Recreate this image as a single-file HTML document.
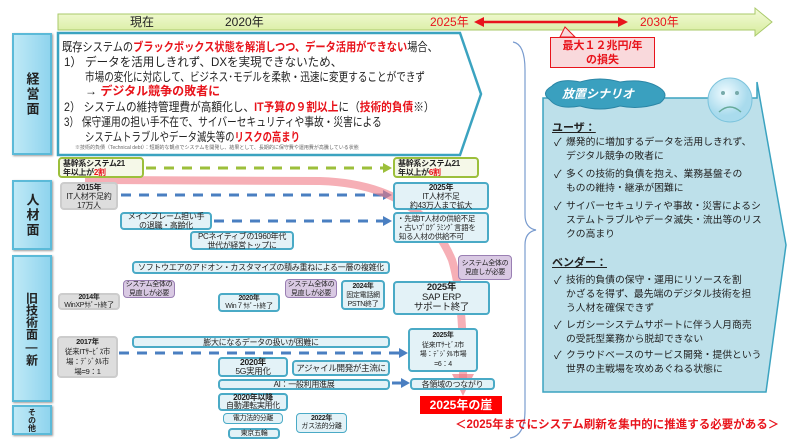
<!DOCTYPE html>
<html><head><meta charset="utf-8"><style>
*{margin:0;padding:0;box-sizing:border-box}
body{width:800px;height:448px;background:#fff;position:relative;overflow:hidden;font-family:"Liberation Sans","Noto Sans CJK JP",sans-serif;color:#222}
.a{position:absolute}
.lab{position:absolute;left:12px;width:40px;background:linear-gradient(90deg,#bfe9f6,#8fd4ee);border:2px solid #5bbad8;font-weight:bold;font-size:13px;display:flex;align-items:center;justify-content:center;writing-mode:vertical-rl;text-orientation:upright;letter-spacing:2px;box-shadow:1px 1px 2px #999}
.bx{position:absolute;border:2px solid #4aaac6;border-radius:4px;background:#e3f2f7;font-size:8px;text-align:center;line-height:9px;display:flex;justify-content:center;align-items:center;white-space:nowrap;letter-spacing:-0.3px}
.g{background:#ddd;border-color:#ccc}
.gr{background:#f5f8e8;border-color:#9cbf3b;font-weight:bold;text-align:left;justify-content:flex-start;padding-left:3px}
.pu{position:absolute;background:#d9c9e3;border:1.5px solid #9a7fb3;border-radius:4px;font-size:7px;line-height:9px;text-align:center;display:flex;justify-content:center;align-items:center;white-space:nowrap;letter-spacing:-0.3px}
b{font-weight:bold}
.r{color:#e8141c;font-weight:bold}
.t{position:absolute;font-size:12px;white-space:nowrap;line-height:14px;transform-origin:0 0}
.li{position:absolute;left:554px;font-size:9.8px;line-height:14px;white-space:nowrap}
.li:before{content:"✓";position:absolute;left:0;font-size:11px}
.li span{display:block;padding-left:12px}
</style></head><body>
<svg class="a" style="left:0;top:0" width="800" height="448">
<defs><linearGradient id="tg" x1="0" y1="0" x2="0" y2="1"><stop offset="0" stop-color="#f4fbd9"/><stop offset="1" stop-color="#d6ec9c"/></linearGradient>
<radialGradient id="fg" cx="0.4" cy="0.35"><stop offset="0" stop-color="#f0fbff"/><stop offset="1" stop-color="#a9dbed"/></radialGradient></defs>
<polygon points="58,14 755,14 755,8 772,22 755,36 755,30 58,30" fill="url(#tg)" stroke="#a9c96a" stroke-width="1"/>
<line x1="480" y1="22" x2="622" y2="22" stroke="#e8141c" stroke-width="2.5"/>
<polygon points="474,22 484,17 484,27" fill="#e8141c"/><polygon points="628,22 618,17 618,27" fill="#e8141c"/>
<polygon points="58,33 460,33 481,94 460,155 58,155" fill="#fff" stroke="#3ba3c0" stroke-width="2.5"/>
<line x1="146" y1="168" x2="384" y2="168" stroke="#9cbf3b" stroke-width="3" stroke-dasharray="10,8"/><polygon points="392,168 383,163 383,173" fill="#9cbf3b"/>
<line x1="121" y1="195" x2="384" y2="195" stroke="#4a7fc1" stroke-width="3" stroke-dasharray="10,8"/><polygon points="392,195 383,190 383,200" fill="#4a7fc1"/>
<line x1="214" y1="221" x2="384" y2="221" stroke="#4a7fc1" stroke-width="3" stroke-dasharray="10,8"/><polygon points="392,221 383,216 383,226" fill="#4a7fc1"/>
<line x1="119" y1="353" x2="400" y2="353" stroke="#4a7fc1" stroke-width="3" stroke-dasharray="10,8"/><polygon points="408,353 399,348 399,358" fill="#4a7fc1"/>
<line x1="392" y1="383" x2="402" y2="383" stroke="#4a7fc1" stroke-width="3"/><polygon points="410,383 401,378 401,388" fill="#4a7fc1"/>
<path d="M85,180 L320,181 Q420,184 452,260 Q464,300 463,380" fill="none" stroke="#f07a85" stroke-opacity="0.6" stroke-width="8"/>
<polygon points="463,396 452,374 474,374" fill="#f07a85" fill-opacity="0.7"/>
<path d="M513,42 Q525,44 525,70 L525,215 Q525,228 536,230 Q525,232 525,245 L525,410 Q525,436 510,438" fill="none" stroke="#7a9ccf" stroke-width="1.2"/>
<polygon points="543,98 757,98 757,82 786,245 766,392 757,392 543,392" fill="#bde0ea" stroke="#3ba3c0" stroke-width="1.5"/>
<path d="M552,86 Q560,78 580,82 Q600,76 620,82 Q645,78 660,88 Q670,95 660,103 Q640,110 620,106 Q600,112 580,106 Q558,110 550,100 Q540,93 552,86Z" fill="#3aa0bf" stroke="#2b86a6"/>
<circle cx="730" cy="100" r="22" fill="url(#fg)" stroke="#7cc3dc"/>
<circle cx="723" cy="93" r="2" fill="#7aa"/><circle cx="737" cy="93" r="2" fill="#7aa"/>
<path d="M719,112 Q730,102 741,112" fill="none" stroke="#6a9" stroke-width="1.5"/>
<polygon points="560,37 565,27 575,37" fill="#f9d9dc" stroke="#e8141c" stroke-width="1"/>
</svg>
<div class="t" style="left:130px;top:15px">現在</div>
<div class="t" style="left:225px;top:15px">2020年</div>
<div class="t" style="left:430px;top:15px;color:#e8141c">2025年</div>
<div class="t" style="left:640px;top:15px;color:#e8141c">2030年</div>
<div class="a" style="left:550px;top:37px;width:105px;height:31px;background:#f9d9dc;border:1px solid #e8141c;color:#e8141c;font-weight:bold;font-size:11px;text-align:center;line-height:14px;padding-top:1px">最大１２兆円/年<br>の損失</div>

<div class="lab" style="top:33px;height:122px">経営面</div>
<div class="lab" style="top:180px;height:70px">人材面</div>
<div class="lab" style="top:255px;height:147px;font-size:12px;letter-spacing:0">旧技術面―新</div>
<div class="lab" style="top:405px;height:30px;font-size:8px;letter-spacing:0">その他</div>

<div class="t" style="left:62px;top:40px;transform:scaleX(0.85)">既存システムの<span class="r">ブラックボックス状態を解消しつつ、データ活用ができない</span>場合、</div>
<div class="t" style="left:64px;top:55px;transform:scaleX(0.96)">1） データを活用しきれず、DXを実現できないため、</div>
<div class="t" style="left:85px;top:70px;transform:scaleX(0.8)">市場の変化に対応して、ビジネス･モデルを柔軟・迅速に変更することができず</div>
<div class="t" style="left:85px;top:84px">→ <span class="r">デジタル競争の敗者に</span></div>
<div class="t" style="left:64px;top:100px;transform:scaleX(0.89)">2） システムの維持管理費が高額化し、<span class="r">IT予算の９割以上</span>に（<span class="r">技術的負債</span>※）</div>
<div class="t" style="left:64px;top:115px;transform:scaleX(0.81)">3） 保守運用の担い手不在で、サイバーセキュリティや事故・災害による</div>
<div class="t" style="left:85px;top:130px;transform:scaleX(0.78)">システムトラブルやデータ滅失等の<span class="r">リスクの高まり</span></div>
<div class="t" style="left:75px;top:145px;font-size:5px;line-height:6px;color:#666">※技術的負債（Technical debt）：短期的な観点でシステムを開発し、結果として、長期的に保守費や運用費が高騰している状態</div>

<div class="bx gr" style="left:58px;top:157px;width:86px;height:21px"><div>基幹系システム21<br>年以上が<span class="r">2割</span></div></div>
<div class="bx gr" style="left:393px;top:157px;width:86px;height:21px"><div>基幹系システム21<br>年以上が<span class="r">6割</span></div></div>
<div class="bx g" style="left:60px;top:182px;width:58px;height:28px"><div><b>2015年</b><br>IT人材不足約<br>17万人</div></div>
<div class="bx" style="left:393px;top:182px;width:96px;height:28px"><div><b>2025年</b><br>IT人材不足<br>約43万人まで拡大</div></div>
<div class="bx" style="left:120px;top:212px;width:92px;height:18px"><div>メインフレーム担い手<br>の退職・高齢化</div></div>
<div class="bx" style="left:393px;top:212px;width:96px;height:31px;text-align:left;justify-content:flex-start;padding-left:2px;font-size:7.5px"><div>・先端IT人材の供給不足<br>・古いﾌﾟﾛｸﾞﾗﾐﾝｸﾞ言語を<br>&nbsp;知る人材の供給不可</div></div>
<div class="bx" style="left:190px;top:231px;width:104px;height:19px"><div>PCネイティブの1960年代<br>世代が経営トップに</div></div>
<div class="bx" style="left:132px;top:261px;width:258px;height:13px"><div>ソフトウエアのアドオン・カスタマイズの積み重ねによる一層の複雑化</div></div>
<div class="bx g" style="left:58px;top:293px;width:62px;height:17px;font-size:7px;line-height:7.5px"><div><b>2014年</b><br>WinXPｻﾎﾟｰﾄ終了</div></div>
<div class="pu" style="left:123px;top:280px;width:52px;height:18px"><div>システム全体の<br>見直しが必要</div></div>
<div class="bx" style="left:218px;top:293px;width:62px;height:19px;font-size:7px;line-height:8px"><div><b>2020年</b><br>Win７ｻﾎﾟｰﾄ終了</div></div>
<div class="pu" style="left:285px;top:279px;width:52px;height:19px"><div>システム全体の<br>見直しが必要</div></div>
<div class="bx" style="left:341px;top:280px;width:44px;height:30px;font-size:7px"><div><b>2024年</b><br>固定電話網<br>PSTN終了</div></div>
<div class="bx" style="left:393px;top:281px;width:97px;height:34px;line-height:10px;font-size:9.5px"><div><b>2025年</b><br>SAP ERP<br>サポート終了</div></div>
<div class="pu" style="left:458px;top:255px;width:54px;height:25px"><div>システム全体の<br>見直しが必要</div></div>
<div class="bx g" style="left:57px;top:336px;width:61px;height:42px;line-height:10px;font-size:7.5px"><div><b>2017年</b><br>従来ITｻｰﾋﾞｽ市<br>場：ﾃﾞｼﾞﾀﾙ市<br>場=9：1</div></div>
<div class="bx" style="left:132px;top:336px;width:258px;height:12px"><div>膨大になるデータの扱いが困難に</div></div>
<div class="bx" style="left:408px;top:328px;width:70px;height:44px;font-size:7px;line-height:9.5px"><div><b>2025年</b><br>従来ITｻｰﾋﾞｽ市<br>場：ﾃﾞｼﾞﾀﾙ市場<br>=6：4</div></div>
<div class="bx" style="left:218px;top:357px;width:70px;height:20px;font-size:8.5px"><div><b>2020年</b><br>5G実用化</div></div>
<div class="bx" style="left:292px;top:360px;width:98px;height:16px;font-size:8.5px"><div>アジャイル開発が主流に</div></div>
<div class="bx" style="left:218px;top:379px;width:172px;height:11px"><div>AI：一般利用進展</div></div>
<div class="bx" style="left:410px;top:378px;width:85px;height:12px"><div>各領域のつながり</div></div>
<div class="bx" style="left:218px;top:393px;width:70px;height:18px;line-height:8px"><div><b>2020年以降</b><br>自動運転実用化</div></div>
<div class="bx" style="left:223px;top:413px;width:60px;height:11px;font-size:7px;border-width:1px"><div>電力法的分離</div></div>
<div class="bx" style="left:228px;top:428px;width:52px;height:11px;font-size:7px"><div>東京五輪</div></div>
<div class="bx" style="left:296px;top:413px;width:51px;height:20px;line-height:8px;font-size:7px;border-width:1px"><div><b>2022年</b><br>ガス法的分離</div></div>
<div class="a" style="left:420px;top:396px;width:82px;height:18px;background:#f00;color:#fff;font-weight:bold;font-size:12px;text-align:center;line-height:18px">2025年の崖</div>
<div class="t" style="left:455px;top:418px;color:#e8141c;font-weight:bold;font-size:11.5px">＜2025年までにシステム刷新を集中的に推進する必要がある＞</div>

<div class="t" style="left:562px;top:87px;color:#fff;font-weight:bold;font-style:italic;font-size:12px">放置シナリオ</div>
<div class="t" style="left:552px;top:121px;font-size:11px;font-weight:bold;text-decoration:underline">ユーザ：</div>
<div class="li" style="top:136px"><span>爆発的に増加するデータを活用しきれず、<br>デジタル競争の敗者に</span></div>
<div class="li" style="top:168px"><span>多くの技術的負債を抱え、業務基盤その<br>ものの維持・継承が困難に</span></div>
<div class="li" style="top:200px"><span>サイバーセキュリティや事故・災害によるシ<br>ステムトラブルやデータ滅失・流出等のリス<br>クの高まり</span></div>
<div class="t" style="left:552px;top:256px;font-size:11px;font-weight:bold;text-decoration:underline">ベンダー：</div>
<div class="li" style="top:274px"><span>技術的負債の保守・運用にリソースを割<br>かざるを得ず、最先端のデジタル技術を担<br>う人材を確保できず</span></div>
<div class="li" style="top:319px"><span>レガシーシステムサポートに伴う人月商売<br>の受託型業務から脱却できない</span></div>
<div class="li" style="top:349px"><span>クラウドベースのサービス開発・提供という<br>世界の主戦場を攻めあぐねる状態に</span></div>
</body></html>
